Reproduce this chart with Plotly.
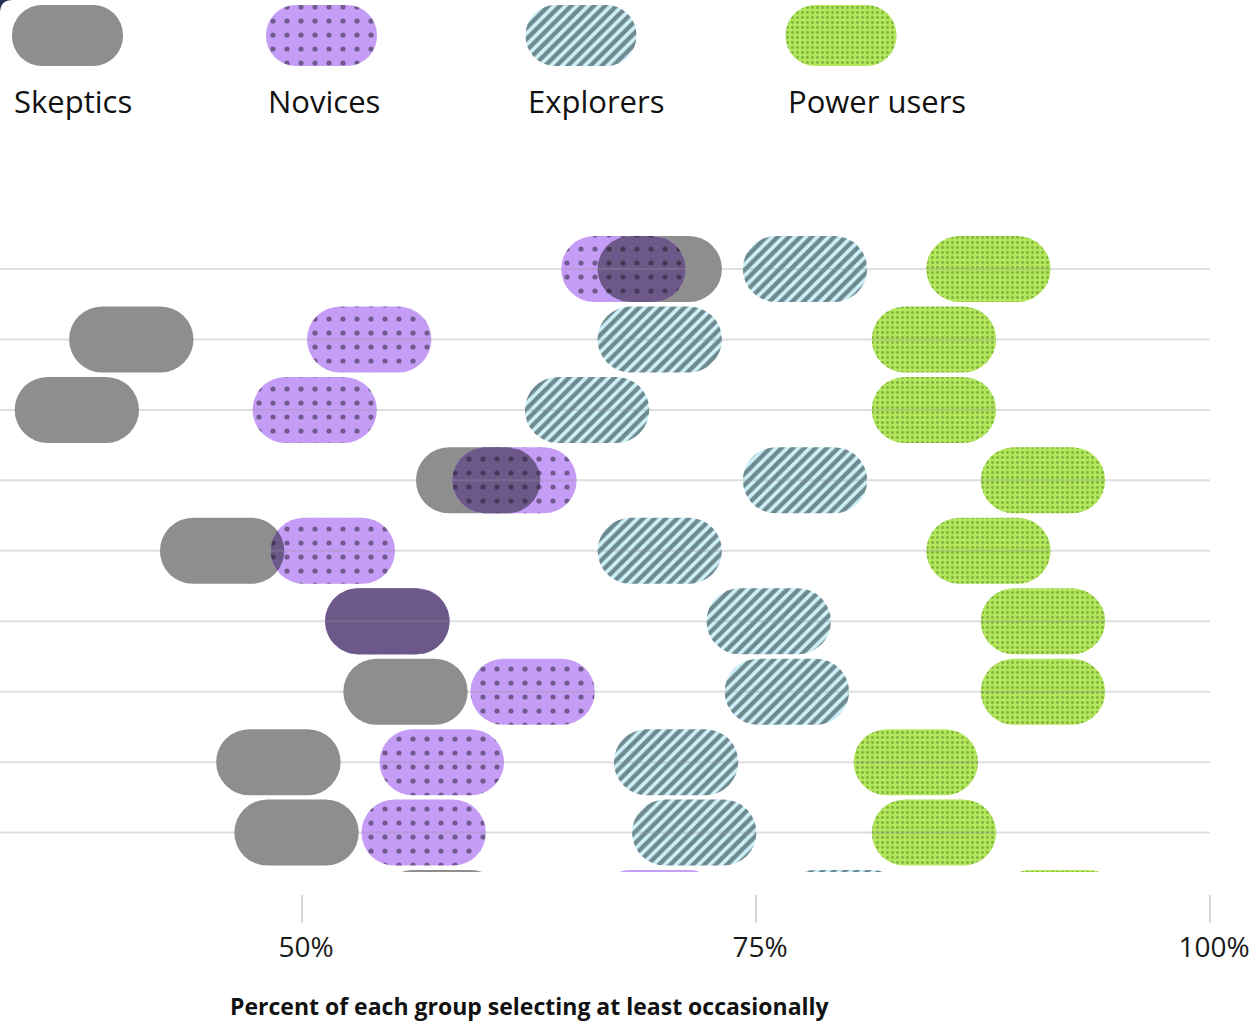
import math
import plotly.graph_objects as go

# ---------------- data ----------------
groups = ["Skeptics", "Novices", "Explorers", "Power users"]
rows = [1, 2, 3, 4, 5, 6, 7, 8, 9, 10]
skeptics = [69.7, 40.6, 37.6, 59.7, 45.6, 54.7, 55.7, 48.7, 49.7, 57.7]
novices = [67.7, 53.7, 50.7, 61.7, 51.7, 54.7, 62.7, 57.7, 56.7, 69.7]
explorers = [77.7, 69.7, 65.7, 77.7, 69.7, 75.7, 76.7, 70.6, 71.6, 79.8]
power_users = [87.8, 84.8, 84.8, 90.8, 87.8, 90.8, 90.8, 83.8, 84.8, 91.7]
tick_vals = [50, 75, 100]
tick_text = ["50%", "75%", "100%"]
axis_title = "Percent of each group selecting at least occasionally"

# ---------------- layout / style constants ----------------
W, H = 1253, 1022
FONT = "Open Sans"
X_MIN, X_MAX = 33.37, 100
PLOT_RIGHT_PX = 1210
ROW1_PX, ROW_STEP_PX = 269, 70.45
PLOT_TOP_PX, PLOT_BOTTOM_PX = 200, 872
AXIS_PX = 894
PILL_LEN = 6.85        # in percent units
PILL_THICK = 0.937     # in row units

styles = {
    "Skeptics": dict(color="#8e8e8e", pattern=None),
    "Novices": dict(color="#c59df7",
                    pattern=dict(shape=".", fgcolor="#1e1a26", bgcolor="#c59df7",
                                 size=14, solidity=0.11)),
    "Explorers": dict(color="#cdf0f9",
                      pattern=dict(shape="/", fgcolor="#102428", bgcolor="#cdf0f9",
                                   size=8, solidity=0.55)),
    "Power users": dict(color="#b3e85c",
                        pattern=dict(shape=".", fgcolor="#4f7d1f", bgcolor="#b3e85c",
                                     size=5, solidity=0.28)),
}
OVERLAP_COLOR = "#6c5889"
OVERLAP_DOT = "#1e1a26"


def py(p):
    return 1 - p / H


def row_at(p):
    return 1 + (p - ROW1_PX) / ROW_STEP_PX


def add_pills(fig, centers, ys, color, pattern, length, thick, xa="x", ya="y"):
    lengths = length if isinstance(length, list) else [length] * len(centers)
    marker = dict(color=color, cornerradius="50%", line=dict(width=0))
    if pattern is not None:
        marker["pattern"] = pattern
    fig.add_trace(go.Bar(orientation="h", y=ys, x=lengths,
                         base=[c - l / 2 for c, l in zip(centers, lengths)],
                         width=thick, marker=marker, xaxis=xa, yaxis=ya,
                         hoverinfo="skip", showlegend=False))


fig = go.Figure()

series = {"Skeptics": skeptics, "Novices": novices,
          "Explorers": explorers, "Power users": power_users}
for g in groups:
    add_pills(fig, series[g], rows, styles[g]["color"], styles[g]["pattern"],
              PILL_LEN, PILL_THICK)

# ---- overlap of Skeptics and Novices pills (darker blend), exact pill intersection ----
px_per_pct = PLOT_RIGHT_PX / (X_MAX - X_MIN)
r_y = PILL_THICK / 2                               # row units
r_x = (r_y * ROW_STEP_PX) / px_per_pct             # same radius in percent units


def pill_edges(c, t):
    d = r_x * (1 - math.sqrt(max(0.0, 1 - t * t)))
    return c - PILL_LEN / 2 + d, c + PILL_LEN / 2 - d


N_SAMP = 61
for r, s, nv in zip(rows, skeptics, novices):
    right_pts, left_pts = [], []
    for i in range(N_SAMP):
        t = -1 + 2 * i / (N_SAMP - 1)
        l1, h1 = pill_edges(s, t)
        l2, h2 = pill_edges(nv, t)
        lo, hi = max(l1, l2), min(h1, h2)
        if hi > lo:
            right_pts.append((hi, r + t * r_y))
            left_pts.append((lo, r + t * r_y))
    if len(right_pts) < 2:
        continue
    poly = right_pts + left_pts[::-1] + [right_pts[0]]
    same = abs(s - nv) < 1e-9
    kw = {}
    if not same:
        kw["fillpattern"] = dict(shape=".", fgcolor=OVERLAP_DOT, bgcolor=OVERLAP_COLOR,
                                 size=14, solidity=0.11)
    fig.add_trace(go.Scatter(x=[p[0] for p in poly], y=[p[1] for p in poly],
                             mode="lines", fill="toself", fillcolor=OVERLAP_COLOR,
                             line=dict(width=0, color=OVERLAP_COLOR),
                             hoverinfo="skip", showlegend=False, **kw))

# gridlines drawn above the pills (light, semi-transparent)
gx, gy = [], []
for r in rows:
    gx += [X_MIN, X_MAX, None]
    gy += [r, r, None]
fig.add_trace(go.Scatter(x=gx, y=gy, mode="lines",
                         line=dict(color="rgba(150,150,150,0.3)", width=2),
                         hoverinfo="skip", showlegend=False))

# ---------------- custom legend (own axes) ----------------
LEG_CENTERS = [67.5, 321.5, 581, 841]
LEG_LEN, LEG_THICK, LEG_Y = 111, 61, 35.5
for g, cx in zip(groups, LEG_CENTERS):
    add_pills(fig, [cx], [LEG_Y], styles[g]["color"], styles[g]["pattern"],
              LEG_LEN, LEG_THICK, xa="x2", ya="y2")

annotations = []
for g, cx in zip(groups, LEG_CENTERS):
    annotations.append(dict(text=g, x=cx - LEG_LEN / 2, xref="x2", xanchor="left",
                            y=py(101), yref="paper", yanchor="middle",
                            showarrow=False,
                            font=dict(family=FONT, size=31, color="#111111")))
annotations.append(dict(text="<b>" + axis_title + "</b>", x=529.5 / W, xref="paper",
                        xanchor="center", y=py(1006), yref="paper", yanchor="middle",
                        showarrow=False,
                        font=dict(family=FONT, size=23, color="#111111")))

# small dark window corner visible at the top-left of the reference
CORNER = 13
corner_path = "M 0,1 L {a},1 Q 0,1 0,{b} Z".format(a=CORNER / W, b=1 - CORNER / H)

fig.update_layout(
    width=W, height=H, autosize=False,
    margin=dict(l=0, r=0, t=0, b=0, pad=0, autoexpand=False),
    paper_bgcolor="white", plot_bgcolor="white",
    barmode="overlay",
    showlegend=False,
    font=dict(family=FONT, color="#1a1a1a"),
    xaxis=dict(domain=[0, PLOT_RIGHT_PX / W], range=[X_MIN, X_MAX],
               anchor="free", position=py(AXIS_PX), automargin=False,
               tickmode="array", tickvals=tick_vals, ticktext=tick_text,
               ticks="outside", ticklen=28, tickwidth=2, tickcolor="#d6d6d6",
               ticklabelshift=4,
               tickfont=dict(family=FONT, size=28, color="#1a1a1a"),
               showgrid=False, zeroline=False, showline=False, fixedrange=True),
    yaxis=dict(domain=[py(PLOT_BOTTOM_PX), py(PLOT_TOP_PX)],
               range=[row_at(PLOT_BOTTOM_PX), row_at(PLOT_TOP_PX)],
               automargin=False,
               showticklabels=False, showgrid=False, zeroline=False,
               showline=False, ticks="", fixedrange=True),
    xaxis2=dict(domain=[0, 1], range=[0, W], anchor="y2", visible=False,
                automargin=False, fixedrange=True),
    yaxis2=dict(domain=[py(72), 1], range=[72, 0], anchor="x2", visible=False,
                automargin=False, fixedrange=True),
    annotations=annotations,
    shapes=[dict(type="path", xref="paper", yref="paper", path=corner_path,
                 fillcolor="#24324f", line=dict(width=0), layer="above")],
)

fig.write_html(
    "out.html",
    config={"responsive": False, "displayModeBar": False},
    post_script="document.body.style.margin='0';document.body.style.overflow='hidden';",
)
